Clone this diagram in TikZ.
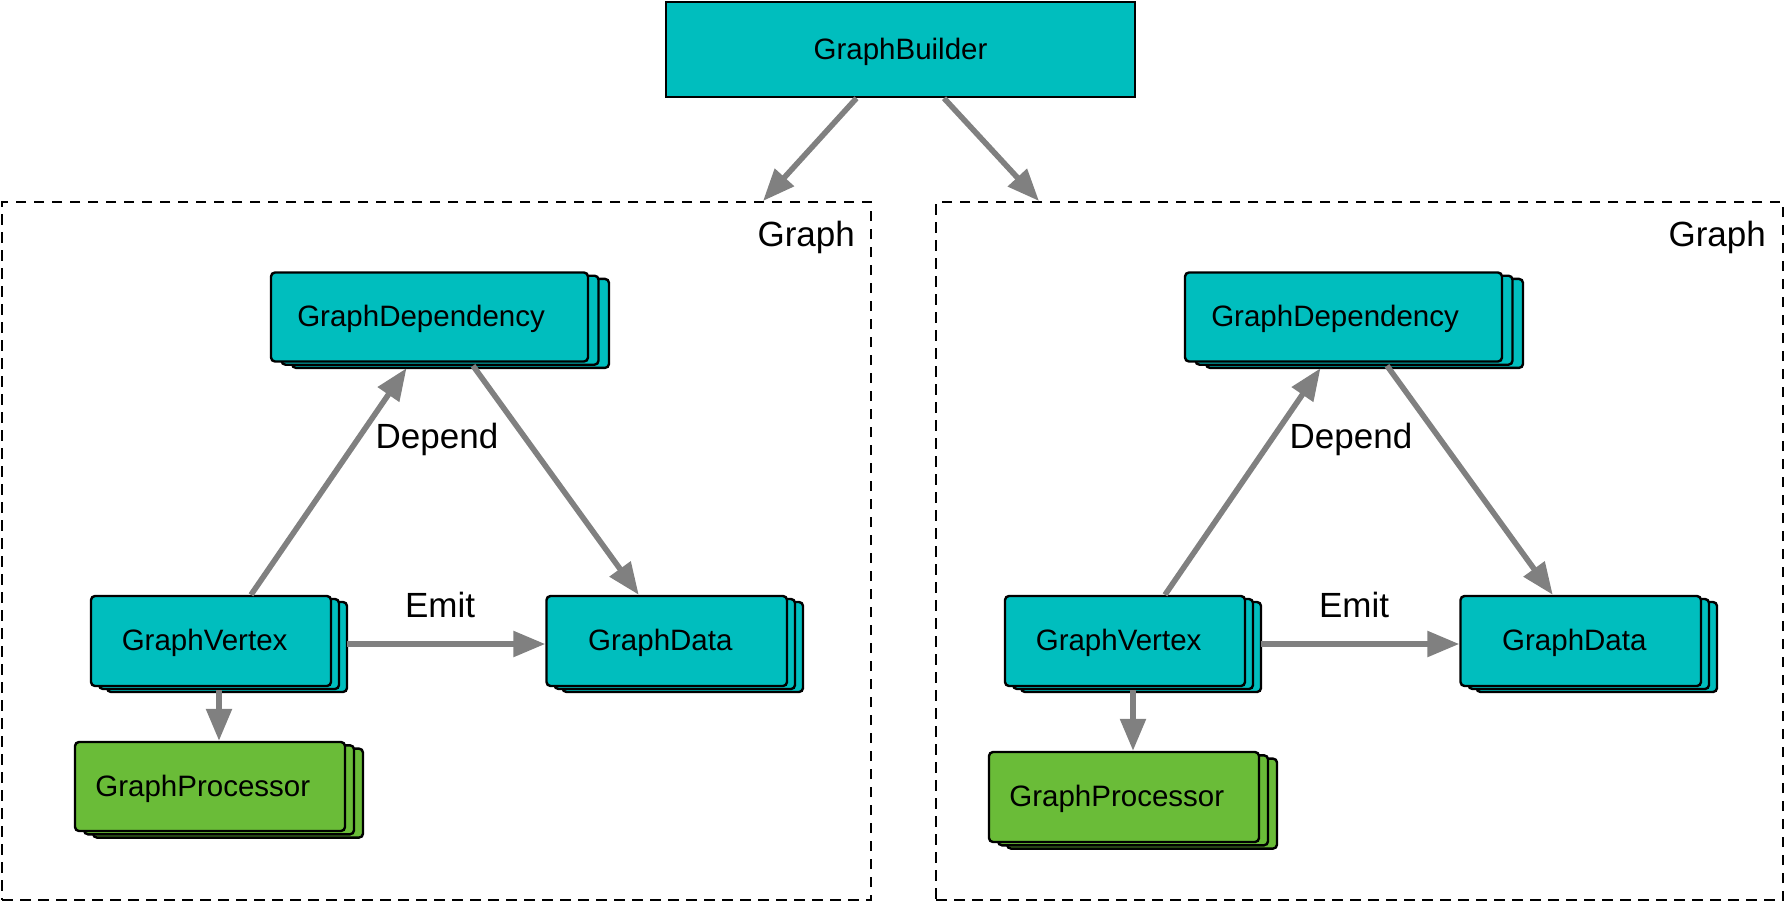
\documentclass[tikz,border=0pt]{standalone}
\usepackage{fontspec}
\setmainfont{Liberation Sans}
\usetikzlibrary{arrows.meta,fit,calc}
\definecolor{boxteal}{RGB}{0,190,190}
\definecolor{boxgreen}{RGB}{106,188,56}
\definecolor{arrgray}{RGB}{128,128,128}
\tikzset{
  boxline/.style={draw=black, line width=2.4pt, rounded corners=4pt},
  boxtext/.style={font=\fontsize{29.5}{35}\selectfont, inner sep=0pt},
  lbl/.style={font=\fontsize{35}{42}\selectfont, inner sep=0pt},
  arr/.style={draw=arrgray, line width=5.6pt, -{Triangle[length=32pt,width=25pt]}},
  frame/.style={draw=black, line width=2pt, dash pattern=on 10.5pt off 7.5pt, inner sep=0pt},
}
% name, colour, x1, y1, x2, y2, dx, dy, text
\newcommand{\stackbox}[9]{%
  \draw[boxline, fill=#2] ({#3+2*#7},{#4+2*#8}) rectangle ({#5+2*#7},{#6+2*#8});
  \draw[boxline, fill=#2] ({#3+#7},{#4+#8}) rectangle ({#5+#7},{#6+#8});
  \coordinate (#1-nw) at (#3,#4);
  \coordinate (#1-se) at (#5,#6);
  \node[boxline, fill=#2, fit=(#1-nw)(#1-se), inner sep=0pt] (#1) {};
  \node[boxtext] (#1-t) at ([xshift={-0.8*#7},yshift=-2pt]#1.center) {#9};
}
\begin{document}
\begin{tikzpicture}[x=1pt,y=-1pt]
\path[use as bounding box] (0,0) rectangle (1786,902);

% GraphBuilder
\coordinate (gb-nw) at (666,2);
\coordinate (gb-se) at (1135,97);
\node[draw=black, line width=2.4pt, fill=boxteal, fit=(gb-nw)(gb-se), inner sep=0pt] (gb) {};
\node[boxtext] (gb-t) at ([yshift=-2pt]gb.center) {GraphBuilder};

% frames
\coordinate (Lf-nw) at (2,202);
\coordinate (Lf-se) at (871,900);
\node[frame, fit=(Lf-nw)(Lf-se)] (Lf) {};
\node[lbl, anchor=east] (Lf-t) at (855,237) {Graph};

\coordinate (Rf-nw) at (936,202);
\coordinate (Rf-se) at (1783,900);
\node[frame, fit=(Rf-nw)(Rf-se)] (Rf) {};
\node[lbl, anchor=east] (Rf-t) at (1766,237) {Graph};

% left panel
\stackbox{Ldep}{boxteal}{271}{272.5}{588}{361.5}{10.5}{3.2}{GraphDependency}
\stackbox{Lv}{boxteal}{91}{596}{331}{686}{8}{3}{GraphVertex}
\stackbox{Ld}{boxteal}{546.5}{596}{787}{686}{8}{3}{GraphData}
\stackbox{Lp}{boxgreen}{75}{742}{345}{831}{9}{3.3}{GraphProcessor}

% right panel
\stackbox{Rdep}{boxteal}{1185}{272.5}{1502}{361.5}{10.5}{3.2}{GraphDependency}
\stackbox{Rv}{boxteal}{1005}{596}{1245}{686}{8}{3}{GraphVertex}
\stackbox{Rd}{boxteal}{1460.5}{596}{1701}{686}{8}{3}{GraphData}
\stackbox{Rp}{boxgreen}{989}{752}{1259}{842}{9}{3.3}{GraphProcessor}

% labels
\node[lbl] (Ldepend) at (437,439) {Depend};
\node[lbl] (Lemit) at (440,605) {Emit};
\node[lbl] (Rdepend) at (1351,439) {Depend};
\node[lbl] (Remit) at (1354,605) {Emit};

% arrows from GraphBuilder
\draw[arr] ([xshift=-44pt]gb.south) -- ([xshift=-109pt]Lf.north east);
\draw[arr] ([xshift=43.5pt]gb.south) -- ([xshift=104pt]Rf.north west);

% left arrows
\draw[arr] ([xshift=40pt]Lv.north) -- ([xshift=-23pt,yshift=-5.5pt]Ldep.south);
\draw[arr] ([xshift=43.5pt,yshift=-3pt]Ldep.south) -- ([xshift=-28pt]Ld.north);
\draw[arr] ([xshift=15pt,yshift=-3pt]Lv.east) -- ([yshift=-3pt]Ld.west);
\draw[arr] ([xshift=8pt,yshift=-3pt]Lv.south) -- ([xshift=9pt]Lp.north);

% right arrows
\draw[arr] ([xshift=40pt]Rv.north) -- ([xshift=-23pt,yshift=-5.5pt]Rdep.south);
\draw[arr] ([xshift=43.5pt,yshift=-3pt]Rdep.south) -- ([xshift=-28pt]Rd.north);
\draw[arr] ([xshift=15pt,yshift=-3pt]Rv.east) -- ([yshift=-3pt]Rd.west);
\draw[arr] ([xshift=8pt,yshift=-3pt]Rv.south) -- ([xshift=9pt]Rp.north);
\end{tikzpicture}
\end{document}
